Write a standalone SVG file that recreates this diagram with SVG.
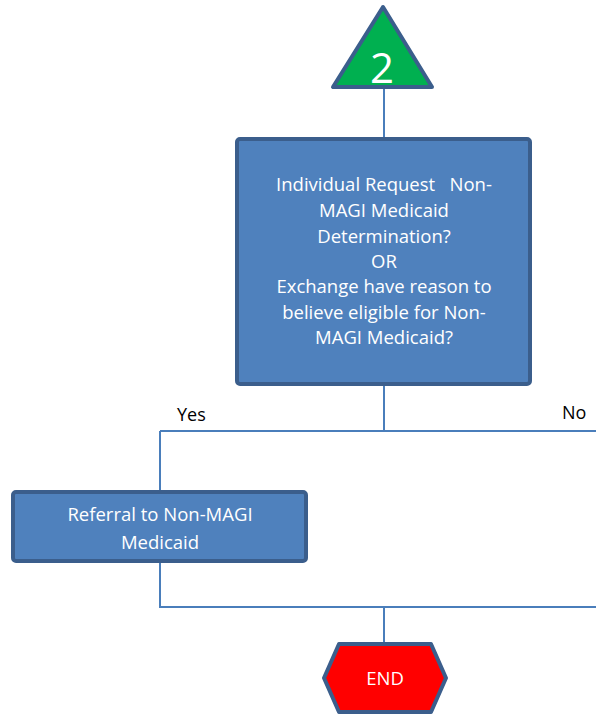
<svg xmlns="http://www.w3.org/2000/svg" width="596" height="715" viewBox="0 0 596 715">
  <style>
    .node { stroke: #3b5e8c; stroke-width: 4; stroke-linejoin: round; }
    .box { fill: #4f81bd; }
    .wire { fill: none; stroke: #4a7ebb; stroke-width: 2; }
    .lbl { font-family: "Open Sans", "Liberation Sans", sans-serif; font-size: 18.5px; fill: #ffffff; text-anchor: middle; }
    .branch { font-family: "Open Sans", "Liberation Sans", sans-serif; font-size: 18px; fill: #000000; }
  </style>

  <!-- connectors -->
  <g id="connectors">
    <path class="wire" d="M384 87 V140"/>
    <path class="wire" d="M384 385 V431"/>
    <path class="wire" d="M160 431 H596"/>
    <path class="wire" d="M160 431 V491"/>
    <path class="wire" d="M160 562 V607 H596"/>
    <path class="wire" d="M384 607 V643"/>
    <text class="branch" x="177" y="421">Yes</text>
    <text class="branch" x="562" y="419">No</text>
  </g>

  <!-- off-page connector 2 -->
  <g id="start">
    <polygon class="node" points="383,7 333,87 432,87" fill="#00b050"/>
    <text x="382" y="83" font-family="Open Sans, Liberation Sans, sans-serif" font-size="42" fill="#ffffff" text-anchor="middle">2</text>
  </g>

  <!-- decision -->
  <g id="decision">
    <rect class="node box" x="237" y="139" width="293" height="245" rx="3"/>
    <text class="lbl" x="384" y="191">Individual Request&#160;&#160; Non-</text>
    <text class="lbl" x="384" y="217">MAGI Medicaid</text>
    <text class="lbl" x="384" y="243">Determination?</text>
    <text class="lbl" x="384" y="268">OR</text>
    <text class="lbl" x="384" y="293">Exchange have reason to</text>
    <text class="lbl" x="384" y="319">believe eligible for Non-</text>
    <text class="lbl" x="384" y="344">MAGI Medicaid?</text>
  </g>

  <!-- referral -->
  <g id="referral">
    <rect class="node box" x="13" y="492" width="293" height="69" rx="3"/>
    <text class="lbl" x="160" y="521">Referral to Non-MAGI</text>
    <text class="lbl" x="160" y="549">Medicaid</text>
  </g>

  <!-- terminator -->
  <g id="end">
    <polygon class="node" points="339,644 431,644 446,678 431,712 339,712 324,678" fill="#ff0000" stroke-width="5"/>
    <text class="lbl" x="385" y="685">END</text>
  </g>
</svg>
